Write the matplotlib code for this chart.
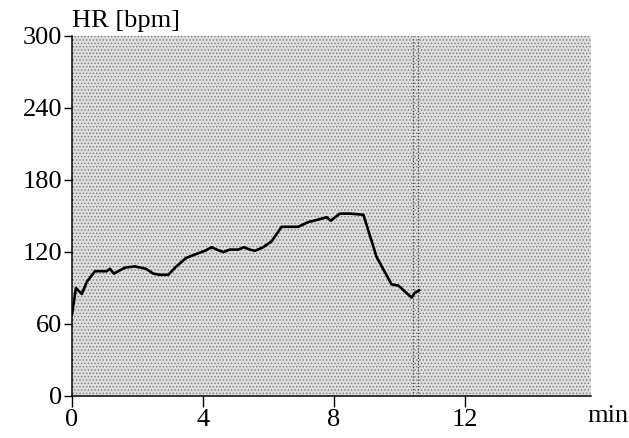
import matplotlib
matplotlib.use("Agg")
import matplotlib.pyplot as plt
from matplotlib.patches import Rectangle

plt.rcParams['font.family'] = ['Liberation Serif', 'DejaVu Serif']
plt.rcParams['hatch.linewidth'] = 0.6

# Herzfrequenz-Verlauf
t_min = [0.0, 0.12, 0.30, 0.45, 0.70, 1.06, 1.16, 1.28, 1.62, 1.92, 2.26, 2.48,
         2.69, 2.94, 3.15, 3.48, 3.86, 4.06, 4.27, 4.42, 4.62, 4.82, 5.08, 5.25,
         5.43, 5.59, 5.84, 6.10, 6.40, 6.91, 7.22, 7.52, 7.78, 7.90, 8.18, 8.49,
         8.90, 9.30, 9.76, 9.97, 10.37, 10.47, 10.60]
hr_bpm = [68, 90, 85, 95, 104, 104, 106, 102, 107, 108, 106, 102,
          101, 101, 107, 115, 119, 121, 124, 122, 120, 122, 122, 124,
          122, 121, 124, 129, 141, 141, 145, 147, 149, 146, 152, 152,
          151, 116, 93, 92, 82, 86, 88]
marker_t = [10.42, 10.58]

x_ticks = [0, 4, 8, 12]
y_ticks = [0, 60, 120, 180, 240, 300]

fig = plt.figure(figsize=(6.29, 4.38), dpi=100)
ax = fig.add_axes([72 / 629, 42 / 438, (591 - 72) / 629, (396 - 36) / 438])

ax.set_xlim(0, 15.85)
ax.set_ylim(0, 300)

# punktierter Hintergrund
ax.set_facecolor('#dedede')
bg = Rectangle((0, 0), 1, 1, transform=ax.transAxes, facecolor='none',
               edgecolor='#7a7a7a', hatch='.....', lw=0, zorder=0)
ax.add_patch(bg)

for tm in marker_t:
    ax.axvline(tm, color='#444444', lw=0.9, ls=(0, (1, 1.5)), zorder=1)

ax.plot(t_min, hr_bpm, color='black', lw=1.9, zorder=3)

for s in ['top', 'right']:
    ax.spines[s].set_visible(False)
for s in ['left', 'bottom']:
    ax.spines[s].set_linewidth(1.1)

ax.set_xticks(x_ticks)
ax.set_yticks(y_ticks)
ax.tick_params(axis='x', direction='out', length=8, width=1, labelsize=19, pad=1)
ax.tick_params(axis='y', direction='out', length=6, width=1, labelsize=19, pad=1)

ax.text(0, 303, 'HR [bpm]', fontsize=19, ha='left', va='bottom')
ax.annotate('min', xy=(1, 0), xycoords='axes fraction', xytext=(17, -26),
            textcoords='offset pixels', fontsize=19, ha='center', va='baseline')

fig.savefig('out.png', dpi=100)
